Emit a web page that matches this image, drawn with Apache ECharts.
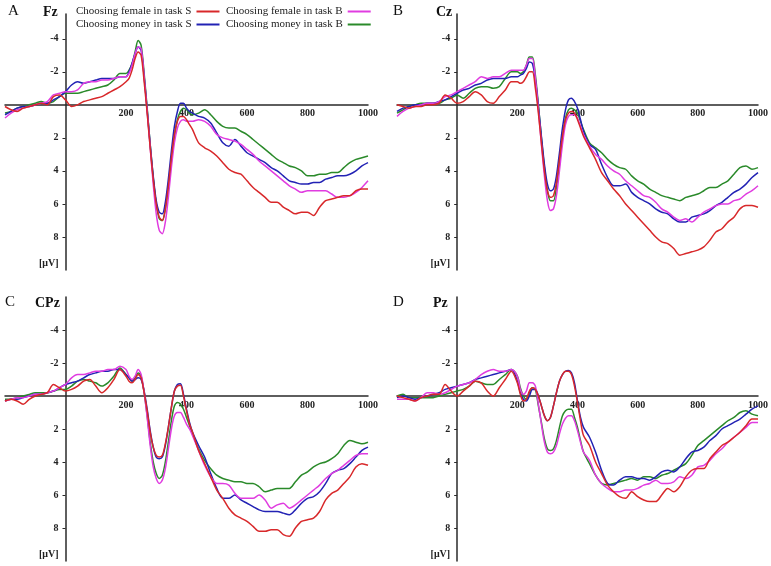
<!DOCTYPE html>
<html>
<head>
<meta charset="utf-8">
<script src="https://cdn.jsdelivr.net/npm/echarts@6/dist/echarts.min.js"></script>
<style>html,body{margin:0;padding:0;background:#fff}#c{width:771px;height:566px}</style>
</head>
<body>
<div id="c"></div>
<script>
// time points (ms)
const times = [-200,-180,-160,-140,-120,-100,-80,-60,-40,-20,0,20,40,60,80,100,120,140,160,180,
  200,210,220,230,240,250,260,270,280,290,300,310,320,330,340,350,360,370,380,390,400,410,
  420,440,460,480,500,520,540,560,580,600,620,640,660,680,700,720,740,760,780,800,820,840,860,880,900,920,940,960,980,1000];

const conditionNames = ['Choosing female in task S','Choosing female in task B','Choosing money in task S','Choosing money in task B'];
const panelLetters = ['A','B','C','D'];
const electrodes = ['Fz','Cz','CPz','Pz'];
const xTickValues = [200,400,600,800,1000];
const yTickValues = [-4,-2,2,4,6,8];
const unitLabel = '[\u03bcV]';

// Fz
const fzFemaleS = [0.1,0.3,0.4,0.2,0.1,0.0,-0.1,0.0,-0.5,-0.6,-0.3,0.1,0.0,-0.2,-0.3,-0.4,-0.5,-0.7,-0.9,-1.1,
  -1.4,-1.6,-2.1,-2.8,-3.2,-3.0,-1.4,0.5,2.6,4.5,6.0,6.8,7.0,6.3,4.9,3.2,1.8,1.0,0.7,0.7,0.9,1.2,
  1.5,2.3,2.6,2.8,3.1,3.5,3.9,4.1,4.2,4.6,5.0,5.3,5.6,5.9,5.9,6.2,6.4,6.6,6.5,6.5,6.7,6.2,5.8,5.7,5.6,5.5,5.5,5.2,5.1,5.1];
const fzFemaleB = [0.8,0.5,0.3,0.2,0.1,0.0,-0.1,-0.2,-0.6,-0.7,-0.8,-0.8,-0.9,-1.3,-1.4,-1.4,-1.5,-1.5,-1.6,-1.7,
  -1.7,-1.9,-2.4,-3.1,-3.5,-3.4,-1.7,0.4,2.6,4.8,6.6,7.6,7.8,7.1,5.6,3.8,2.3,1.4,1.0,0.9,1.0,1.0,
  1.0,0.9,1.0,1.3,1.8,2.0,2.1,2.2,2.4,2.7,3.0,3.4,3.7,4.0,4.3,4.6,4.9,5.1,5.3,5.2,5.2,5.2,5.2,5.4,5.6,5.6,5.5,5.3,5.0,4.6];
const fzMoneyS = [0.6,0.4,0.2,0.1,0.1,0.0,-0.1,-0.1,-0.3,-0.5,-0.8,-1.2,-1.4,-1.3,-1.4,-1.5,-1.6,-1.6,-1.6,-1.7,
  -1.7,-2.0,-2.5,-3.1,-3.5,-3.3,-1.7,0.3,2.4,4.3,5.8,6.5,6.6,5.9,4.5,2.8,1.3,0.4,-0.1,-0.1,0.2,0.4,
  0.5,0.7,0.8,1.1,1.7,2.3,2.5,2.1,2.5,2.9,3.1,3.3,3.5,3.8,4.0,4.3,4.6,4.7,4.8,4.8,4.7,4.7,4.5,4.4,4.3,4.3,4.2,4.0,3.7,3.5];
const fzMoneyB = [0.5,0.4,0.2,0.1,0.0,-0.1,-0.2,-0.1,-0.2,-0.5,-0.7,-0.7,-0.7,-0.8,-0.9,-1.0,-1.1,-1.2,-1.5,-1.9,
  -1.9,-2.1,-2.5,-3.2,-3.9,-3.6,-1.9,0.2,2.4,4.4,6.0,6.9,7.0,6.3,5.0,3.4,1.9,0.9,0.4,0.2,0.3,0.5,
  0.6,0.5,0.3,0.6,1.0,1.3,1.4,1.4,1.6,1.8,2.1,2.4,2.7,3.0,3.3,3.5,3.7,3.8,4.0,4.3,4.3,4.2,4.2,4.1,4.1,3.8,3.5,3.3,3.2,3.1];

// Cz
const czFemaleS = [0.0,0.1,0.2,0.1,0.1,0.0,0.0,-0.1,-0.6,-0.4,-0.1,-0.2,-0.5,-0.8,-0.6,-0.2,-0.1,-0.5,-0.9,-1.4,
  -1.4,-1.3,-1.4,-1.7,-2.0,-2.0,-1.0,0.5,2.3,4.0,5.2,5.6,5.5,4.7,3.3,1.9,0.9,0.5,0.4,0.5,0.9,1.4,
  1.9,2.6,3.3,4.1,4.6,5.1,5.5,6.0,6.4,6.8,7.2,7.6,8.0,8.3,8.4,8.7,9.1,9.0,8.9,8.8,8.6,8.2,7.7,7.5,7.1,6.8,6.3,6.1,6.1,6.2];
const czFemaleB = [0.7,0.4,0.2,0.1,0.0,-0.1,-0.1,-0.2,-0.5,-0.6,-0.8,-1.0,-1.2,-1.4,-1.7,-1.6,-1.7,-1.7,-1.9,-2.1,
  -2.1,-2.1,-2.1,-2.4,-2.8,-2.8,-1.6,0.3,2.4,4.3,5.8,6.4,6.3,5.5,4.0,2.4,1.2,0.7,0.6,0.6,0.8,1.3,
  1.8,2.5,3.0,3.3,3.7,4.0,4.2,4.6,4.9,5.2,5.5,5.6,5.9,6.3,6.5,6.8,7.0,6.9,7.1,6.8,6.5,6.3,6.1,6.0,6.0,5.8,5.7,5.4,5.2,4.9];
const czMoneyS = [0.4,0.2,0.1,0.0,0.0,-0.1,-0.1,-0.2,-0.3,-0.5,-0.7,-0.9,-1.0,-1.2,-1.3,-1.5,-1.6,-1.6,-1.6,-1.7,
  -1.7,-1.8,-1.9,-2.2,-2.6,-2.5,-1.5,0.1,1.9,3.6,4.8,5.2,5.1,4.3,2.9,1.4,0.3,-0.3,-0.4,-0.2,0.2,0.9,
  1.6,2.4,2.7,3.6,4.4,4.9,4.9,4.8,5.3,5.6,5.8,6.0,6.3,6.5,6.6,6.9,7.1,7.1,6.8,6.7,6.6,6.4,6.1,5.9,5.6,5.3,5.1,4.8,4.4,4.1];
const czMoneyB = [0.5,0.3,0.1,0.0,-0.1,-0.1,-0.1,-0.1,-0.3,-0.4,-0.6,-0.4,-0.7,-1.0,-1.1,-1.1,-1.0,-1.1,-1.6,-2.0,
  -2.0,-1.9,-2.0,-2.4,-2.9,-2.9,-1.8,0.0,2.0,3.8,5.2,5.8,5.8,5.0,3.6,2.0,0.8,0.3,0.2,0.3,0.5,1.0,
  1.5,2.3,2.6,2.9,3.3,3.6,3.8,3.9,4.3,4.6,4.8,5.1,5.3,5.5,5.6,5.7,5.8,5.6,5.5,5.4,5.2,5.0,5.0,4.8,4.6,4.2,3.8,3.7,3.9,3.8];

// CPz
const cpzFemaleS = [0.3,0.2,0.3,0.5,0.2,0.0,-0.1,-0.2,-0.7,-0.5,-0.3,-0.4,-0.6,-0.9,-1.0,-0.6,-0.2,-0.5,-1.0,-1.6,
  -1.2,-0.9,-0.8,-1.0,-1.3,-1.1,-0.2,0.9,2.2,3.1,3.6,3.7,3.6,2.9,1.9,0.7,-0.3,-0.6,-0.65,0.0,0.9,1.7,
  2.2,3.3,4.1,4.9,5.7,6.2,6.8,7.2,7.4,7.6,7.9,8.2,8.2,8.1,8.1,8.4,8.5,8.0,7.6,7.5,7.4,7.0,6.3,5.9,5.7,5.3,4.9,4.3,4.1,4.2];
const cpzFemaleB = [0.3,0.2,0.1,0.1,0.0,-0.1,-0.1,-0.2,-0.3,-0.5,-0.7,-1.1,-1.3,-1.3,-1.4,-1.5,-1.5,-1.6,-1.6,-1.8,
  -1.6,-1.2,-1.0,-1.2,-1.6,-1.3,-0.2,1.3,3.0,4.3,5.0,5.3,5.1,4.4,3.2,2.0,1.2,1.0,1.0,1.3,1.7,2.0,
  2.4,3.3,4.2,4.9,5.3,5.3,5.4,5.9,6.2,6.2,6.2,6.0,6.3,6.8,6.6,6.5,6.8,6.6,6.3,6.0,5.7,5.4,5.0,4.7,4.5,4.2,3.9,3.6,3.5,3.5];
const cpzMoneyS = [0.3,0.2,0.2,0.1,0.0,-0.1,-0.1,-0.2,-0.3,-0.5,-0.7,-0.8,-0.9,-1.1,-1.3,-1.4,-1.5,-1.5,-1.6,-1.6,
  -1.3,-1.1,-0.9,-1.0,-1.1,-1.0,-0.3,0.8,2.1,3.1,3.7,3.8,3.7,3.0,1.9,0.7,-0.3,-0.7,-0.75,-0.1,0.8,1.6,
  2.2,3.0,3.7,4.7,5.6,6.2,6.2,6.0,6.3,6.5,6.7,6.9,7.0,7.0,7.0,7.1,7.2,6.9,6.5,6.2,6.1,5.8,5.3,4.7,4.5,4.4,4.1,3.7,3.3,3.1];
const cpzMoneyB = [0.2,0.2,0.1,0.0,-0.1,-0.2,-0.2,-0.2,-0.3,-0.4,-0.4,-0.6,-0.9,-1.0,-0.9,-0.8,-0.6,-0.8,-1.2,-1.7,
  -1.3,-1.1,-0.9,-1.1,-1.4,-1.2,-0.2,1.2,2.8,4.0,4.7,5.0,4.8,4.0,2.8,1.5,0.6,0.4,0.5,0.8,1.3,1.8,
  2.3,3.2,3.9,4.4,4.8,5.0,5.1,5.2,5.2,5.3,5.3,5.5,5.8,5.7,5.6,5.6,5.6,5.2,4.8,4.6,4.3,4.1,4.0,3.8,3.5,3.0,2.7,2.8,2.9,2.8];

// Pz
const pzFemaleS = [0.0,0.1,0.2,0.3,0.1,0.0,-0.1,-0.1,-0.7,-0.3,0.0,-0.3,-0.6,-0.9,-0.8,-0.3,0.0,-0.5,-1.0,-1.5,
  -0.8,-0.1,0.3,0.2,-0.3,-0.5,-0.4,0.0,0.6,1.2,1.5,1.3,0.6,-0.2,-0.9,-1.3,-1.5,-1.5,-1.3,-0.6,0.4,1.5,
  2.4,3.0,4.0,4.7,5.4,5.8,6.1,6.2,5.8,6.1,6.3,6.4,6.4,6.0,5.6,5.8,5.5,4.9,4.5,4.4,4.4,3.8,3.4,3.0,2.8,2.5,2.2,1.8,1.4,1.4];
const pzFemaleB = [0.2,0.2,0.2,0.3,0.1,-0.2,-0.2,-0.1,-0.2,-0.4,-0.6,-0.7,-0.8,-1.0,-1.3,-1.5,-1.6,-1.5,-1.5,-1.6,
  -1.2,-0.4,-0.1,-0.3,-0.8,-0.8,-0.6,0.5,1.7,2.8,3.4,3.5,3.4,3.0,2.3,1.7,1.35,1.2,1.2,1.5,2.1,2.8,
  3.4,3.9,4.8,5.3,5.6,5.8,5.8,5.7,5.7,5.6,5.4,5.3,5.1,5.3,5.3,5.2,4.9,5.0,4.8,4.3,4.2,3.9,3.5,3.2,2.8,2.5,2.2,1.9,1.6,1.6];
const pzMoneyS = [0.1,0.0,0.1,0.2,0.1,0.0,-0.1,-0.2,-0.4,-0.5,-0.6,-0.7,-0.8,-1.0,-1.1,-1.2,-1.3,-1.4,-1.5,-1.6,
  -0.9,-0.2,0.2,0.3,0.0,-0.4,-0.4,0.0,0.6,1.2,1.5,1.3,0.6,-0.2,-0.9,-1.3,-1.5,-1.55,-1.4,-0.8,0.3,1.3,
  1.9,2.5,3.4,4.5,5.3,5.4,5.1,4.9,4.9,5.0,5.0,5.1,4.9,4.6,4.5,4.6,4.3,3.8,3.4,3.3,3.1,2.7,2.4,2.0,1.8,1.6,1.4,1.1,0.8,0.6];
const pzMoneyB = [0.0,-0.1,0.1,0.1,0.1,0.1,0.1,0.0,-0.1,-0.2,-0.3,-0.4,-0.6,-0.9,-0.8,-0.7,-0.7,-1.0,-1.3,-1.6,
  -1.2,-0.5,0.0,0.2,-0.2,-0.5,-0.4,0.6,1.6,2.6,3.2,3.3,3.2,2.7,1.9,1.2,0.9,0.8,0.8,1.3,1.9,2.7,
  3.4,4.1,4.8,5.3,5.4,5.3,5.2,5.1,5.0,5.1,4.9,4.9,5.0,4.8,4.7,4.5,4.3,4.1,3.6,3.0,2.7,2.4,2.1,1.8,1.5,1.3,1.0,0.9,1.1,1.2];

const panels = [
  [fzFemaleS, fzFemaleB, fzMoneyS, fzMoneyB],
  [czFemaleS, czFemaleB, czMoneyS, czMoneyB],
  [cpzFemaleS, cpzFemaleB, cpzMoneyS, cpzMoneyB],
  [pzFemaleS, pzFemaleB, pzMoneyS, pzMoneyB]
];

const colors = ['#d8282a', '#e03ce0', '#2222b4', '#2a8a2a'];
const serif = '"Liberation Serif", "Times New Roman", serif';
const X_MIN = -200, X_MAX = 1000, Y_MAX = 10;
const yMins = [-5.5, -5.5, -6, -6];

// main plot boxes
const boxes = [
  {left: 5, top: 14, width: 363, height: 256},
  {left: 397, top: 14, width: 361, height: 256},
  {left: 5, top: 297, width: 363, height: 264},
  {left: 397, top: 297, width: 361, height: 264}
];

const gridList = [], xAxes = [], yAxes = [];
const axisColor = '#2a2a2a';
const labelStyle = {fontFamily: serif, fontSize: 10, fontWeight: 'bold', color: '#222'};

// 0-3: main grids (lines + axis lines through zero)
boxes.forEach((b, i) => {
  gridList.push(Object.assign({outerBoundsMode: 'none', containLabel: false}, b));
  xAxes.push({type: 'value', gridIndex: i, min: X_MIN, max: X_MAX,
    axisLine: {onZero: true, lineStyle: {color: axisColor, width: 1.5}},
    axisTick: {show: false}, splitLine: {show: false}, axisLabel: {show: false}});
  yAxes.push({type: 'value', gridIndex: i, min: yMins[i], max: Y_MAX, inverse: true,
    axisLine: {show: true, onZero: true, lineStyle: {color: axisColor, width: 1.5}},
    axisTick: {show: false}, splitLine: {show: false}, axisLabel: {show: false}});
});
// 4-7: y label grids (left edge at time 0)
boxes.forEach((b, i) => {
  const frac = (0 - X_MIN) / (X_MAX - X_MIN);
  gridList.push({outerBoundsMode: 'none', containLabel: false,
    left: b.left + b.width * frac, width: b.width * (1 - frac), top: b.top, height: b.height});
  xAxes.push({type: 'value', gridIndex: 4 + i, min: 0, max: X_MAX, show: false});
  yAxes.push({type: 'value', gridIndex: 4 + i, min: yMins[i], max: Y_MAX, inverse: true, position: 'left',
    axisLine: {show: false},
    axisTick: {show: true, customValues: yTickValues, length: 3, lineStyle: {color: axisColor}},
    splitLine: {show: false},
    axisLabel: Object.assign({customValues: yTickValues.concat([9.6]), margin: 7,
      formatter: v => (v > 9 ? unitLabel : String(v))}, labelStyle)});
});
// 8-11: x label grids (top edge at value 0)
boxes.forEach((b, i) => {
  const frac = (0 - yMins[i]) / (Y_MAX - yMins[i]);
  gridList.push({outerBoundsMode: 'none', containLabel: false,
    left: b.left, width: b.width, top: b.top + b.height * frac, height: b.height * (1 - frac)});
  xAxes.push({type: 'value', gridIndex: 8 + i, min: X_MIN, max: X_MAX, position: 'top',
    axisLine: {show: false}, axisTick: {show: false}, splitLine: {show: false},
    axisLabel: Object.assign({customValues: xTickValues, inside: true, margin: 4,
      formatter: v => String(v)}, labelStyle)});
  yAxes.push({type: 'value', gridIndex: 8 + i, min: 0, max: 1, show: false});
});

const series = [];
panels.forEach((vals, p) => {
  vals.forEach((arr, j) => {
    series.push({
      type: 'line', name: conditionNames[j], xAxisIndex: p, yAxisIndex: p,
      data: times.map((t, k) => [t, arr[k]]),
      showSymbol: false, smooth: 0.3, z: 5 - j,
      lineStyle: {color: colors[j], width: 1.5},
      itemStyle: {color: colors[j]}
    });
  });
});

const legendPos = [[76, 6], [226, 6], [76, 19], [226, 19]];
const legends = conditionNames.map((n, j) => ({
  data: [n], left: legendPos[j][0], top: legendPos[j][1], padding: 0,
  align: 'right', icon: 'rect', itemWidth: 23, itemHeight: 2,
  selectedMode: false,
  textStyle: {fontFamily: serif, fontSize: 11, color: '#222'}
}));

const letterPos = [[8, 4], [393, 4], [5, 295], [393, 295]];
const elecPos = [[43, 5], [436, 5], [35, 296], [433, 296]];
const graphic = [];
panelLetters.forEach((l, i) => {
  graphic.push({type: 'text', left: letterPos[i][0], top: letterPos[i][1],
    style: {text: l, font: '15px ' + serif, fill: '#111'}});
  graphic.push({type: 'text', left: elecPos[i][0], top: elecPos[i][1],
    style: {text: electrodes[i], font: 'bold 14px ' + serif, fill: '#111'}});
});

const chart = echarts.init(document.getElementById('c'), null, {renderer: 'canvas'});
chart.setOption({
  animation: false,
  backgroundColor: '#fff',
  grid: gridList,
  xAxis: xAxes,
  yAxis: yAxes,
  legend: legends,
  graphic: graphic,
  series: series
});
</script>
</body>
</html>
